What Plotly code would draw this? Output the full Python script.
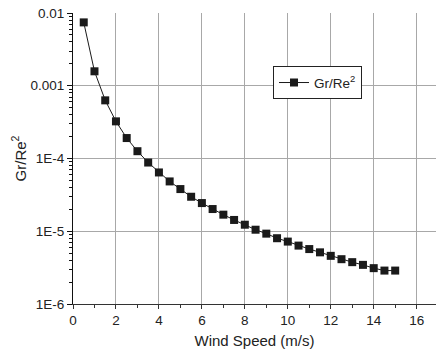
import plotly.graph_objects as go

wind_speed = [0.5, 1, 1.5, 2, 2.5, 3, 3.5, 4, 4.5, 5, 5.5, 6, 6.5, 7, 7.5, 8,
              8.5, 9, 9.5, 10, 10.5, 11, 11.5, 12, 12.5, 13, 13.5, 14, 14.5, 15]
gr_re2 = [7.43e-3, 1.58e-3, 6.3e-4, 3.24e-4, 1.91e-4, 1.26e-4, 8.8e-5, 6.43e-5,
          4.84e-5, 3.80e-5, 2.98e-5, 2.44e-5, 2.02e-5, 1.69e-5, 1.43e-5, 1.23e-5,
          1.05e-5, 9.27e-6, 8.02e-6, 7.21e-6, 6.35e-6, 5.69e-6, 5.13e-6, 4.59e-6,
          4.13e-6, 3.76e-6, 3.45e-6, 3.11e-6, 2.88e-6, 2.88e-6]
y_tickvals = [1e-6, 1e-5, 1e-4, 1e-3, 1e-2]
y_ticktext = ["1E-6", "1E-5", "1E-4", "0.001", "0.01"]
x_tickvals = [0, 2, 4, 6, 8, 10, 12, 14, 16]

y_minor = [m * 10 ** e for e in range(-6, -2) for m in range(2, 10)]

fig = go.Figure()
fig.add_trace(go.Scatter(
    x=wind_speed, y=gr_re2, mode="lines+markers", name="Gr/Re<sup>2</sup>",
    line=dict(color="#1a1a1a", width=1),
    marker=dict(symbol="square", size=8, color="#1a1a1a"),
))

font = "Liberation Sans, Arial, sans-serif"
fig.update_layout(
    width=436, height=353,
    margin=dict(l=73, r=0, t=13, b=49),
    paper_bgcolor="white", plot_bgcolor="white",
    font=dict(family=font, size=13.5, color="#222"),
    showlegend=True,
    legend=dict(x=0.551, y=0.817, xanchor="left", yanchor="top",
                bordercolor="#222", borderwidth=1, bgcolor="white",
                font=dict(size=13.5, color="#222"), itemwidth=30,
                tracegroupgap=0),
)
fig.update_xaxes(
    range=[0, 16.9], tickmode="array", tickvals=x_tickvals,
    showgrid=True, gridcolor="#a8a8a8", gridwidth=1,
    showline=True, linecolor="#333", linewidth=1,
    ticks="outside", ticklen=4, tickcolor="#333",
    minor=dict(tickmode="linear", tick0=0, dtick=1, ticks="outside", ticklen=3,
               tickcolor="#333", showgrid=False),
    title=dict(text="Wind Speed (m/s)", font=dict(size=15, color="#222"), standoff=8),
    zeroline=False,
)
fig.update_yaxes(
    type="log", range=[-6, -2], tickmode="array", tickvals=y_tickvals,
    ticktext=y_ticktext,
    showgrid=True, gridcolor="#a8a8a8", gridwidth=1,
    showline=True, linecolor="#111", linewidth=1,
    ticks="outside", ticklen=5, tickcolor="#111",
    minor=dict(tickmode="array", tickvals=y_minor, ticks="outside", ticklen=3,
               tickcolor="#111", showgrid=False),
    title=dict(text="Gr/Re<sup>2</sup>", font=dict(size=15, color="#222"), standoff=0),
    zeroline=False,
)

fig.write_html("out.html", config={"displayModeBar": False},
               post_script="document.body.style.margin='0';document.body.style.overflow='hidden';")
